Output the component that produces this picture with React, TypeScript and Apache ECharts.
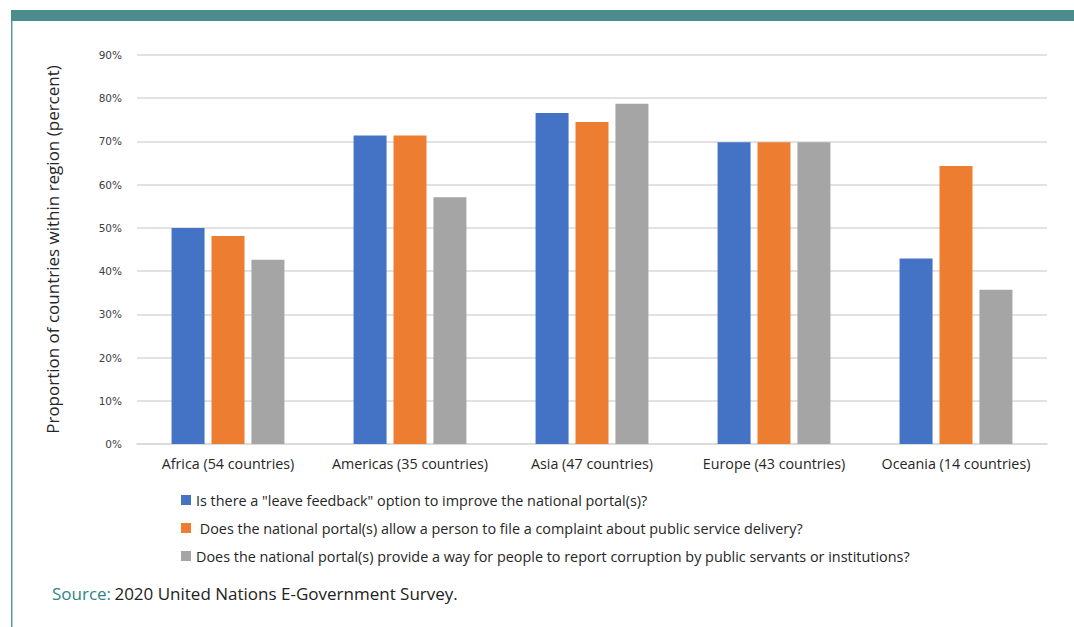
import React, { useEffect, useRef } from "react";
import * as echarts from "echarts";

const categories = [
  "Africa (54 countries)",
  "Americas (35 countries)",
  "Asia (47 countries)",
  "Europe (43 countries)",
  "Oceania (14 countries)",
];
const seriesNames = [
  'Is there a "leave feedback" option to improve the national portal(s)?',
  " Does the national portal(s) allow a person to file a complaint about public service delivery?",
  "Does the national portal(s) provide a way for people to report corruption by public servants or institutions?",
];
const feedback = [50.0, 71.4, 76.6, 69.8, 42.9];
const complaint = [48.1, 71.4, 74.5, 69.8, 64.3];
const corruption = [42.6, 57.1, 78.7, 69.8, 35.7];
const colors = ["#4472c4", "#ed7d31", "#a5a5a5"];

const FONT = "Open Sans";

export default function App() {
  const ref = useRef<HTMLDivElement>(null);
  useEffect(() => {
    if (!ref.current) return;
    const chart = echarts.init(ref.current, undefined, { renderer: "svg" });
    const values = [feedback, complaint, corruption];
    chart.setOption({
      animation: false,
      backgroundColor: "#ffffff",
      grid: { left: 137, right: 27, top: 55, bottom: 183 },
      xAxis: {
        type: "category",
        data: categories,
        axisTick: { show: false },
        axisLine: { lineStyle: { color: "#d9d9d9", width: 1.5 } },
        axisLabel: {
          interval: 0,
          hideOverlap: false,
          fontFamily: FONT,
          fontSize: 14.3,
          color: "#262626",
          margin: 12,
        },
      },
      yAxis: {
        type: "value",
        min: 0,
        max: 90,
        interval: 10,
        name: "Proportion of countries within region (percent)",
        nameLocation: "middle",
        nameRotate: 90,
        nameGap: 76,
        nameTextStyle: { fontFamily: FONT, fontSize: 17, color: "#262626" },
        axisLabel: {
          formatter: "{value}%",
          fontFamily: "DejaVu Sans",
          fontSize: 10.5,
          color: "#404040",
          margin: 15,
        },
        splitLine: { lineStyle: { color: "#d9d9d9", width: 1.5 } },
      },
      legend: {
        orient: "vertical",
        left: 176,
        top: 488,
        itemWidth: 10,
        itemHeight: 10,
        itemGap: 14,
        icon: "rect",
        textStyle: { fontFamily: FONT, fontSize: 14.4, color: "#262626", lineHeight: 14 },
        data: seriesNames,
      },
      series: values.map((v, i) => ({
        name: seriesNames[i],
        type: "bar",
        data: v,
        barWidth: 33,
        barGap: "21%",
        itemStyle: { color: colors[i] },
      })),
      graphic: [
        {
          type: "rect",
          shape: { x: 11, y: 10, width: 1063, height: 11 },
          style: { fill: "#4b8c8e" },
        },
        {
          type: "rect",
          shape: { x: 11, y: 21, width: 1.5, height: 606 },
          style: { fill: "#5a9a9c" },
        },
        {
          type: "text",
          x: 52,
          y: 593,
          style: {
            text: "{a|Source:} {b|2020 United Nations E-Government Survey.}",
            verticalAlign: "middle",
            rich: {
              a: { fontFamily: FONT, fontSize: 17, fill: "#2f8585" },
              b: { fontFamily: FONT, fontSize: 17, fill: "#222222" },
            },
          },
        },
      ],
    });
    return () => chart.dispose();
  }, []);
  return (
    <div
      ref={ref}
      style={{ position: "fixed", left: 0, top: 0, width: 1074, height: 627 }}
    />
  );
}
